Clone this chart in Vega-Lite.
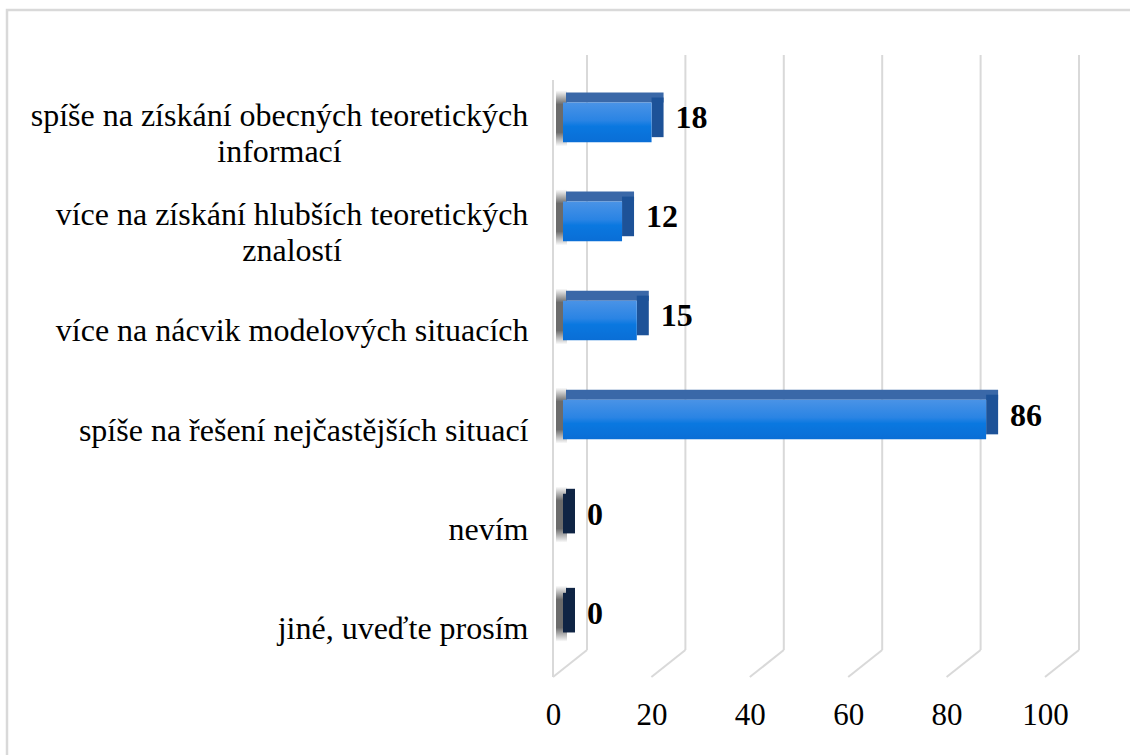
{
  "$schema": "https://vega.github.io/schema/vega-lite/v6.json",
  "width": 1129,
  "height": 751,
  "autosize": "none",
  "padding": {"left": 7, "top": 10, "right": -6, "bottom": -6},
  "background": "white",
  "config": {
    "view": {"stroke": "#d9d9d9", "strokeWidth": 2.5},
    "font": "Liberation Serif"
  },
  "datasets": {
    "odpovedi": [
      {"kategorie": "spíše na získání obecných teoretických informací", "pocet": 18},
      {"kategorie": "více na získání hlubších teoretických znalostí", "pocet": 12},
      {"kategorie": "více na nácvik modelových situacích", "pocet": 15},
      {"kategorie": "spíše na řešení nejčastějších situací", "pocet": 86},
      {"kategorie": "nevím", "pocet": 0},
      {"kategorie": "jiné, uveďte prosím", "pocet": 0}
    ],
    "mrizka": [{"v": 0}, {"v": 20}, {"v": 40}, {"v": 60}, {"v": 80}, {"v": 100}]
  },
  "data": {"name": "odpovedi"},
  "encoding": {
    "y": {
      "field": "kategorie",
      "type": "nominal",
      "sort": null,
      "scale": {
        "domain": [
          "spíše na získání obecných teoretických informací",
          "více na získání hlubších teoretických znalostí",
          "více na nácvik modelových situacích",
          "spíše na řešení nejčastějších situací",
          "nevím",
          "jiné, uveďte prosím"
        ],
        "range": [43, 677],
        "paddingInner": 0.6,
        "paddingOuter": 0.5
      },
      "axis": {
        "title": null,
        "orient": "left",
        "offset": -528,
        "domain": false,
        "ticks": false,
        "grid": false,
        "labelLimit": 700,
        "labelFontSize": 32,
        "labelColor": "#000000",
        "labelFont": "Liberation Serif",
        "labelLineHeight": 36,
        "labelAlign": {"condition": {"test": "indexof(datum.value, 'teoretických') >= 0", "value": "center"}, "value": "right"},
        "labelPadding": {"condition": [
          {"test": "indexof(datum.value, 'obecných') >= 0", "value": 256},
          {"test": "indexof(datum.value, 'hlubších') >= 0", "value": 243.5}
        ], "value": 7},
        "labelOffset": {"condition": {"test": "indexof(datum.value, 'teoretických') >= 0", "value": -6}, "value": 11},
        "labelExpr": "split(replace(datum.label, 'teoretických ', 'teoretických|'), '|')"
      }
    },
    "x": {
      "field": "pocet",
      "type": "quantitative",
      "scale": {"domain": [-110.976, 118.496], "nice": false, "zero": false},
      "axis": {
        "title": null,
        "orient": "bottom",
        "offset": -61,
        "values": [0, 20, 40, 60, 80, 100],
        "domain": false,
        "ticks": false,
        "grid": false,
        "labelPadding": 0,
        "labelFontSize": 31,
        "labelColor": "#000000",
        "labelFont": "Liberation Serif",
        "labelFlush": false
      }
    }
  },
  "layer": [
    {
      "data": {"name": "mrizka"},
      "mark": {"type": "rule", "color": "#d9d9d9", "strokeWidth": 2, "xOffset": 34, "x2Offset": 34, "yOffset": -67.3, "y2Offset": 32.4},
      "encoding": {
        "x": {"field": "v", "type": "quantitative"},
        "y": {"datum": "spíše na získání obecných teoretických informací", "type": "nominal"},
        "y2": {"datum": "jiné, uveďte prosím"}
      }
    },
    {
      "data": {"values": [{"v": 0}]},
      "mark": {"type": "rule", "color": "#d9d9d9", "strokeWidth": 2, "yOffset": -42.3, "y2Offset": 59.4},
      "encoding": {
        "x": {"field": "v", "type": "quantitative"},
        "y": {"datum": "spíše na získání obecných teoretických informací", "type": "nominal"},
        "y2": {"datum": "jiné, uveďte prosím"}
      }
    },
    {
      "data": {"name": "mrizka"},
      "mark": {"type": "rule", "color": "#d9d9d9", "strokeWidth": 2, "xOffset": 0, "x2Offset": 34, "yOffset": 59.4, "y2Offset": 32.4},
      "encoding": {
        "x": {"field": "v", "type": "quantitative"},
        "x2": {"field": "v"},
        "y": {"datum": "jiné, uveďte prosím", "type": "nominal"},
        "y2": {"datum": "jiné, uveďte prosím"}
      }
    },
    {
      "mark": {
        "type": "bar",
        "xOffset": 3,
        "x2Offset": 14,
        "yOffset": -4,
        "height": 56,
        "color": {
          "gradient": "linear", "x1": 0, "y1": 0, "x2": 0, "y2": 1,
          "stops": [
            {"offset": 0, "color": "rgba(70,70,70,0)"},
            {"offset": 0.25, "color": "rgba(70,70,70,0.8)"},
            {"offset": 0.75, "color": "rgba(70,70,70,0.8)"},
            {"offset": 1, "color": "rgba(70,70,70,0)"}
          ]
        }
      },
      "encoding": {
        "x": {"datum": 0, "type": "quantitative"},
        "x2": {"datum": 0}
      }
    },
    {
      "mark": {"type": "bar", "xOffset": 13, "x2Offset": 22, "height": 10, "yOffset": -24.8},
      "encoding": {
        "x": {"datum": 0, "type": "quantitative"},
        "x2": {"field": "pocet"},
        "color": {"condition": {"test": "datum.pocet == 0", "value": "#0f2444"}, "value": "#3a68a8"}
      }
    },
    {
      "mark": {"type": "bar", "xOffset": 10, "x2Offset": 22, "yOffset": -5},
      "encoding": {
        "x2": {"field": "pocet"},
        "color": {"condition": {"test": "datum.pocet == 0", "value": "#0f2444"}, "value": "#1d5298"}
      }
    },
    {
      "mark": {
        "type": "bar",
        "xOffset": 10,
        "x2Offset": 10,
        "color": {
          "gradient": "linear", "x1": 0, "y1": 0, "x2": 0, "y2": 1,
          "stops": [
            {"offset": 0, "color": "#4a93e6"},
            {"offset": 0.45, "color": "#2a84e4"},
            {"offset": 0.6, "color": "#0a78e0"},
            {"offset": 1, "color": "#0a6ed6"}
          ]
        }
      },
      "encoding": {
        "x": {"datum": 0, "type": "quantitative"},
        "x2": {"field": "pocet"}
      }
    },
    {
      "mark": {"type": "text", "align": "left", "baseline": "middle", "dx": 34, "dy": -4, "fontSize": 32, "fontWeight": "bold", "font": "Liberation Serif", "color": "#000000"},
      "encoding": {
        "text": {"field": "pocet", "type": "quantitative"}
      }
    }
  ]
}
